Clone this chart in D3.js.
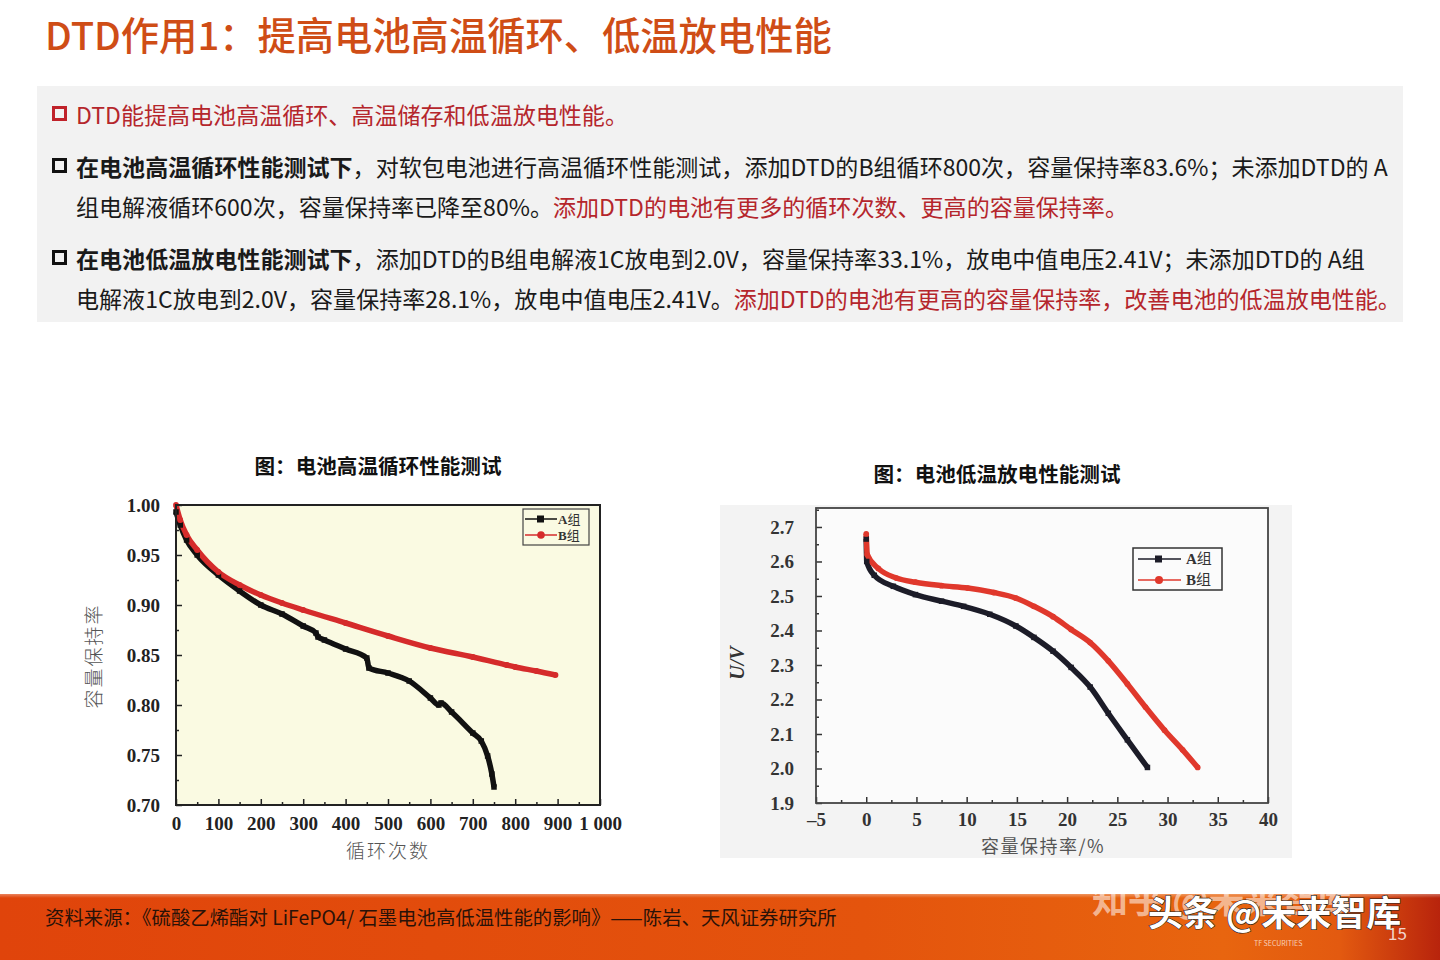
<!DOCTYPE html>
<html><head><meta charset="utf-8">
<script src="https://cdn.jsdelivr.net/npm/d3@7"></script>
<style>html,body{margin:0;padding:0;background:#fff;}svg{display:block;}</style>
</head><body>
<svg id="c" width="1440" height="960"></svg>
<script>
// ---------- DATA ----------
const cyclesA = [0, 10, 25, 50, 100, 150, 200, 250, 300, 330, 335, 350, 400, 450, 455, 500, 550, 600, 620, 625, 650, 700, 720, 735, 745, 750];
const retainA = [0.993, 0.980, 0.965, 0.950, 0.930, 0.914, 0.900, 0.891, 0.879, 0.872, 0.868, 0.865, 0.856, 0.847, 0.837, 0.832, 0.824, 0.807, 0.800, 0.802, 0.793, 0.772, 0.764, 0.749, 0.731, 0.718];
const cyclesB = [0, 10, 25, 50, 100, 150, 200, 250, 300, 400, 500, 600, 700, 780, 800, 850, 895];
const retainB = [1.000, 0.985, 0.970, 0.955, 0.933, 0.920, 0.910, 0.902, 0.895, 0.882, 0.869, 0.857, 0.848, 0.840, 0.838, 0.834, 0.830];
const leftXTicks = [0, 100, 200, 300, 400, 500, 600, 700, 800, 900, 1000];
const leftXTickLabels = ["0", "100", "200", "300", "400", "500", "600", "700", "800", "900", "1 000"];
const leftYTicks = [0.70, 0.75, 0.80, 0.85, 0.90, 0.95, 1.00];

const capA = [0, 0.05, 0.8, 2.7, 4.9, 7.5, 9.7, 12.3, 14.9, 16.7, 18.6, 20.4, 22.3, 24.1, 26.0, 28.0];
const voltA = [2.665, 2.600, 2.560, 2.528, 2.504, 2.485, 2.470, 2.447, 2.413, 2.380, 2.340, 2.293, 2.236, 2.160, 2.083, 2.003];
const capB = [0, 0.1, 1.2, 3.0, 4.9, 7.5, 10.1, 12.7, 14.9, 16.7, 18.6, 20.4, 22.3, 24.1, 26.0, 27.8, 29.7, 31.5, 33.0];
const voltB = [2.680, 2.620, 2.580, 2.552, 2.540, 2.530, 2.523, 2.510, 2.494, 2.470, 2.440, 2.403, 2.365, 2.312, 2.245, 2.178, 2.111, 2.054, 2.003];
const rightXTicks = [-5, 0, 5, 10, 15, 20, 25, 30, 35, 40];
const rightYTicks = [1.9, 2.0, 2.1, 2.2, 2.3, 2.4, 2.5, 2.6, 2.7];
const seriesNames = ["A组", "B组"];

const titleText = "DTD作用1：提高电池高温循环、低温放电性能";
const bodyLines = [
  [{t:"DTD能提高电池高温循环、高温储存和低温放电性能。", c:"red"}],
  [{t:"在电池高温循环性能测试下", b:true}, {t:"，对软包电池进行高温循环性能测试，添加DTD的B组循环800次，容量保持率83.6%；未添加DTD的 A"}],
  [{t:"组电解液循环600次，容量保持率已降至80%。"}, {t:"添加DTD的电池有更多的循环次数、更高的容量保持率。", c:"red"}],
  [{t:"在电池低温放电性能测试下", b:true}, {t:"，添加DTD的B组电解液1C放电到2.0V，容量保持率33.1%，放电中值电压2.41V；未添加DTD的 A组"}],
  [{t:"电解液1C放电到2.0V，容量保持率28.1%，放电中值电压2.41V。"}, {t:"添加DTD的电池有更高的容量保持率，改善电池的低温放电性能。", c:"red"}]
];
const chartTitles = ["图：电池高温循环性能测试", "图：电池低温放电性能测试"];
const sourceText = "资料来源：《硫酸乙烯酯对 LiFePO4/ 石墨电池高低温性能的影响》——陈岩、天风证券研究所";

// ---------- DRAW ----------
const svg = d3.select("#c");
const sans = "'Noto Sans CJK SC','Noto Sans',sans-serif";
const serif = "'Liberation Serif','DejaVu Serif',serif";
const defs = svg.append("defs");

function fitWidth(sel, w) {
  const l = sel.node().getComputedTextLength();
  const fs = parseFloat(sel.attr("font-size"));
  sel.attr("font-size", fs * w / l);
  return fs * w / l;
}

// title
const title = svg.append("text").attr("x", 45).attr("y", 50).attr("font-family", sans).attr("font-weight", 500)
  .attr("font-size", 36).attr("fill", "#cf4d16").text(titleText);
fitWidth(title, 787);

// gray box
svg.append("rect").attr("x", 37).attr("y", 86).attr("width", 1366).attr("height", 236).attr("fill", "#f2f2f2");

const lineY = [124, 176, 216, 268, 308];
const bulletLines = [0, 1, 3];
const bodyTexts = bodyLines.map((segs, i) => {
  const t = svg.append("text").attr("x", 76).attr("y", lineY[i]).attr("font-family", sans)
    .attr("font-size", 21).attr("fill", "#1a1a1a");
  segs.forEach(s => {
    t.append("tspan").text(s.t)
      .attr("font-weight", s.b ? 700 : 400)
      .attr("fill", s.c === "red" ? "#b5262c" : "#1a1a1a");
  });
  return t;
});
const bodyFs = fitWidth(bodyTexts[1], 1312);
bodyTexts.forEach(t => t.attr("font-size", bodyFs));
bulletLines.forEach(i => {
  svg.append("rect").attr("x", 53.5).attr("y", lineY[i] - 16.5).attr("width", 12).attr("height", 12)
    .attr("fill", "none").attr("stroke", i === 0 ? "#c0222a" : "#111").attr("stroke-width", 3);
});

// chart titles
[[378, 474], [997, 482]].forEach((p, i) => {
  const t = svg.append("text").attr("x", p[0]).attr("y", p[1]).attr("text-anchor", "middle")
    .attr("font-family", sans).attr("font-weight", 700).attr("font-size", 19).attr("fill", "#111").text(chartTitles[i]);
  fitWidth(t, 247);
});

// ---------- LEFT CHART ----------
const L = {x0: 176, x1: 600, y0: 505, y1: 805};
const lx = d3.scaleLinear().domain([0, 1000]).range([L.x0, L.x1]);
const ly = d3.scaleLinear().domain([0.70, 1.00]).range([L.y1, L.y0]);
svg.append("rect").attr("x", L.x0).attr("y", L.y0).attr("width", L.x1 - L.x0).attr("height", L.y1 - L.y0).attr("fill", "#fafae2");

const lg = svg.append("g");
lg.append("g").attr("transform", `translate(0,${L.y1})`)
  .call(d3.axisTop(lx).tickValues(d3.range(0, 1001, 50)).tickSize(0).tickFormat(""))
  .call(g => g.select(".domain").remove())
  .call(g => g.selectAll(".tick line").attr("y2", d => d % 100 === 0 ? -6 : -3).attr("stroke", "#222").attr("stroke-width", 1.5));
lg.append("g").attr("transform", `translate(${L.x0},0)`)
  .call(d3.axisRight(ly).tickValues(d3.range(0.70, 1.001, 0.025)).tickSize(0).tickFormat(""))
  .call(g => g.select(".domain").remove())
  .call(g => g.selectAll(".tick line").attr("x2", (d, i) => i % 2 === 0 ? 6 : 3).attr("stroke", "#222").attr("stroke-width", 1.5));
lg.append("g").attr("transform", `translate(0,${L.y1})`)
  .call(d3.axisBottom(lx).tickValues(leftXTicks).tickSize(0).tickPadding(12).tickFormat((d, i) => leftXTickLabels[i]))
  .call(g => g.select(".domain").remove())
  .call(g => g.selectAll("text").attr("font-family", serif).attr("font-weight", 700).attr("font-size", 19).attr("fill", "#222"));
lg.append("g").attr("transform", `translate(${L.x0},0)`)
  .call(d3.axisLeft(ly).tickValues(leftYTicks).tickSize(0).tickPadding(16).tickFormat(d3.format(".2f")))
  .call(g => g.select(".domain").remove())
  .call(g => g.selectAll("text").attr("font-family", serif).attr("font-weight", 700).attr("font-size", 19).attr("fill", "#222"));

const dataA = cyclesA.map((c, i) => [c, retainA[i]]);
const dataB = cyclesB.map((c, i) => [c, retainB[i]]);
const lline = d3.line().x(d => lx(d[0])).y(d => ly(d[1])).curve(d3.curveMonotoneX);
lg.append("path").attr("d", lline(dataA)).attr("fill", "none").attr("stroke", "#111").attr("stroke-width", 5.5).attr("stroke-linejoin", "round");
lg.append("path").attr("d", lline(dataB)).attr("fill", "none").attr("stroke", "#d52b2b").attr("stroke-width", 5.5).attr("stroke-linejoin", "round");
lg.selectAll(".ma").data(dataA).join("rect").attr("x", d => lx(d[0]) - 2.75).attr("y", d => ly(d[1]) - 2.75).attr("width", 5.5).attr("height", 5.5).attr("fill", "#111");
lg.selectAll(".mb").data(dataB).join("circle").attr("cx", d => lx(d[0])).attr("cy", d => ly(d[1])).attr("r", 2.9).attr("fill", "#d52b2b");
svg.append("rect").attr("x", L.x0).attr("y", L.y0).attr("width", L.x1 - L.x0).attr("height", L.y1 - L.y0).attr("fill", "none").attr("stroke", "#222").attr("stroke-width", 2);

// legend left
const lleg = svg.append("g").attr("transform", "translate(523,509)");
lleg.append("rect").attr("width", 66).attr("height", 36).attr("fill", "none").attr("stroke", "#444").attr("stroke-width", 1.2);
[["#111", "sq"], ["#d52b2b", "ci"]].forEach((s, i) => {
  const y = 10 + i * 16;
  lleg.append("line").attr("x1", 2).attr("x2", 34).attr("y1", y).attr("y2", y).attr("stroke", s[0]).attr("stroke-width", 1.5);
  if (s[1] === "sq") lleg.append("rect").attr("x", 14).attr("y", y - 3.5).attr("width", 7).attr("height", 7).attr("fill", s[0]);
  else lleg.append("circle").attr("cx", 18).attr("cy", y).attr("r", 3.8).attr("fill", s[0]);
  lleg.append("text").attr("x", 35).attr("y", y + 4.5).attr("font-family", serif).attr("font-weight", 700).attr("font-size", 13).attr("fill", "#333").text(seriesNames[i][0])
    .append("tspan").attr("font-family", sans).attr("font-weight", 400).text(seriesNames[i].slice(1));
});

// axis titles left
svg.append("text").attr("transform", "translate(101,656) rotate(-90)").attr("text-anchor", "middle")
  .attr("font-family", sans).attr("font-weight", 300).attr("font-size", 19).attr("letter-spacing", 2).attr("fill", "#555").text("容量保持率");
svg.append("text").attr("x", 388).attr("y", 858).attr("text-anchor", "middle")
  .attr("font-family", sans).attr("font-weight", 300).attr("font-size", 19).attr("letter-spacing", 2).attr("fill", "#555").text("循环次数");

// ---------- RIGHT CHART ----------
svg.append("rect").attr("x", 720).attr("y", 505).attr("width", 572).attr("height", 353).attr("fill", "#f3f3f3");
const R = {x0: 816, x1: 1268, y0: 508, y1: 803};
const rx = d3.scaleLinear().domain([-5, 40]).range([R.x0, R.x1]);
const ry = d3.scaleLinear().domain([1.9, 2.755]).range([R.y1, R.y0]);
svg.append("rect").attr("x", R.x0).attr("y", R.y0).attr("width", R.x1 - R.x0).attr("height", R.y1 - R.y0).attr("fill", "#fbfbfb");
const rg = svg.append("g");
rg.append("g").attr("transform", `translate(0,${R.y1})`)
  .call(d3.axisTop(rx).tickValues(d3.range(-5, 40.01, 2.5)).tickSize(0).tickFormat(""))
  .call(g => g.select(".domain").remove())
  .call(g => g.selectAll(".tick line").attr("y2", (d, i) => i % 2 === 0 ? -6 : -3).attr("stroke", "#333").attr("stroke-width", 1.5));
rg.append("g").attr("transform", `translate(${R.x0},0)`)
  .call(d3.axisRight(ry).tickValues(d3.range(1.9, 2.751, 0.05)).tickSize(0).tickFormat(""))
  .call(g => g.select(".domain").remove())
  .call(g => g.selectAll(".tick line").attr("x2", (d, i) => i % 2 === 0 ? 6 : 3).attr("stroke", "#333").attr("stroke-width", 1.5));
rg.append("g").attr("transform", `translate(0,${R.y1})`)
  .call(d3.axisBottom(rx).tickValues(rightXTicks).tickSize(0).tickPadding(10).tickFormat(d => d < 0 ? "\u2013" + Math.abs(d) : d))
  .call(g => g.select(".domain").remove())
  .call(g => g.selectAll("text").attr("font-family", serif).attr("font-weight", 700).attr("font-size", 19).attr("fill", "#333"));
rg.append("g").attr("transform", `translate(${R.x0},0)`)
  .call(d3.axisLeft(ry).tickValues(rightYTicks).tickSize(0).tickPadding(22).tickFormat(d3.format(".1f")))
  .call(g => g.select(".domain").remove())
  .call(g => g.selectAll("text").attr("font-family", serif).attr("font-weight", 700).attr("font-size", 19).attr("fill", "#333"));

const dA = capA.map((c, i) => [c, voltA[i]]);
const dB = capB.map((c, i) => [c, voltB[i]]);
const rline = d3.line().x(d => rx(d[0])).y(d => ry(d[1])).curve(d3.curveMonotoneX);
rg.append("path").attr("d", rline(dA)).attr("fill", "none").attr("stroke", "#1c1c28").attr("stroke-width", 5.5).attr("stroke-linejoin", "round");
rg.append("path").attr("d", rline(dB)).attr("fill", "none").attr("stroke", "#e0382c").attr("stroke-width", 5.5).attr("stroke-linejoin", "round");
rg.selectAll(".ra").data(dA).join("rect").attr("x", d => rx(d[0]) - 2.75).attr("y", d => ry(d[1]) - 2.75).attr("width", 5.5).attr("height", 5.5).attr("fill", "#1c1c28");
rg.selectAll(".rb").data(dB).join("circle").attr("cx", d => rx(d[0])).attr("cy", d => ry(d[1])).attr("r", 2.9).attr("fill", "#e0382c");
svg.append("rect").attr("x", R.x0).attr("y", R.y0).attr("width", R.x1 - R.x0).attr("height", R.y1 - R.y0).attr("fill", "none").attr("stroke", "#444").attr("stroke-width", 1.8);

// legend right
const rleg = svg.append("g").attr("transform", "translate(1133,548)");
rleg.append("rect").attr("width", 89).attr("height", 42).attr("fill", "#fbfbfb").attr("stroke", "#333").attr("stroke-width", 1.5);
[["#1c1c28", "sq"], ["#e0382c", "ci"]].forEach((s, i) => {
  const y = 11 + i * 21;
  rleg.append("line").attr("x1", 5).attr("x2", 48).attr("y1", y).attr("y2", y).attr("stroke", s[0]).attr("stroke-width", 1.5);
  if (s[1] === "sq") rleg.append("rect").attr("x", 22).attr("y", y - 3.5).attr("width", 7).attr("height", 7).attr("fill", s[0]);
  else rleg.append("circle").attr("cx", 26).attr("cy", y).attr("r", 4).attr("fill", s[0]);
  rleg.append("text").attr("x", 53).attr("y", y + 5).attr("font-family", serif).attr("font-weight", 700).attr("font-size", 15).attr("fill", "#333").text(seriesNames[i][0])
    .append("tspan").attr("font-family", sans).attr("font-weight", 400).text(seriesNames[i].slice(1));
});

svg.append("text").attr("transform", "translate(744,663) rotate(-90)").attr("text-anchor", "middle")
  .attr("font-family", serif).attr("font-style", "italic").attr("font-weight", 700).attr("font-size", 20).attr("fill", "#333").text("U/V");
svg.append("text").attr("x", 1043).attr("y", 853).attr("text-anchor", "middle")
  .attr("font-family", sans).attr("font-weight", 400).attr("font-size", 18).attr("letter-spacing", 1.5).attr("fill", "#555").text("容量保持率/%");

// ---------- FOOTER ----------
const fg = defs.append("linearGradient").attr("id", "fg").attr("x1", 0).attr("x2", 1).attr("y1", 0).attr("y2", 0);
[[0, "#e0440b"], [0.6, "#e4540d"], [0.85, "#e8650f"], [0.93, "#e35a10"], [1, "#b8240c"]].forEach(s => fg.append("stop").attr("offset", s[0]).attr("stop-color", s[1]));
svg.append("rect").attr("x", 0).attr("y", 894).attr("width", 1440).attr("height", 66).attr("fill", "url(#fg)");
const fade = defs.append("linearGradient").attr("id", "fade").attr("x1", 0).attr("x2", 0).attr("y1", 0).attr("y2", 1);
fade.append("stop").attr("offset", 0).attr("stop-color", "#fff").attr("stop-opacity", 0.5);
fade.append("stop").attr("offset", 1).attr("stop-color", "#fff").attr("stop-opacity", 0);
svg.append("rect").attr("x", 0).attr("y", 892).attr("width", 1440).attr("height", 6).attr("fill", "url(#fade)");
const src = svg.append("text").attr("x", 45).attr("y", 925).attr("font-family", sans).attr("font-size", 18).attr("fill", "#2a1208").text(sourceText);
fitWidth(src, 792);

// watermark (double-exposed in the reference)
svg.append("text").attr("x", 1092).attr("y", 913).attr("font-family", sans).attr("font-weight", 700).attr("font-size", 36)
  .attr("fill", "#fff").attr("fill-opacity", 0.55).text("知乎 @未来智库");
svg.append("text").attr("x", 1148).attr("y", 926).attr("font-family", sans).attr("font-weight", 700).attr("font-size", 35)
  .attr("fill", "#fff").attr("stroke", "#222").attr("stroke-width", 1.2).attr("paint-order", "stroke").text("头条 @未来智库");
svg.append("text").attr("x", 1254).attr("y", 946).attr("font-family", sans).attr("font-size", 7).attr("fill", "#fff").attr("fill-opacity", 0.7).text("TF SECURITIES");
svg.append("text").attr("x", 1388).attr("y", 940).attr("font-family", sans).attr("font-size", 17).attr("fill", "#fff").attr("fill-opacity", 0.8).text("15");
</script>
</body></html>
